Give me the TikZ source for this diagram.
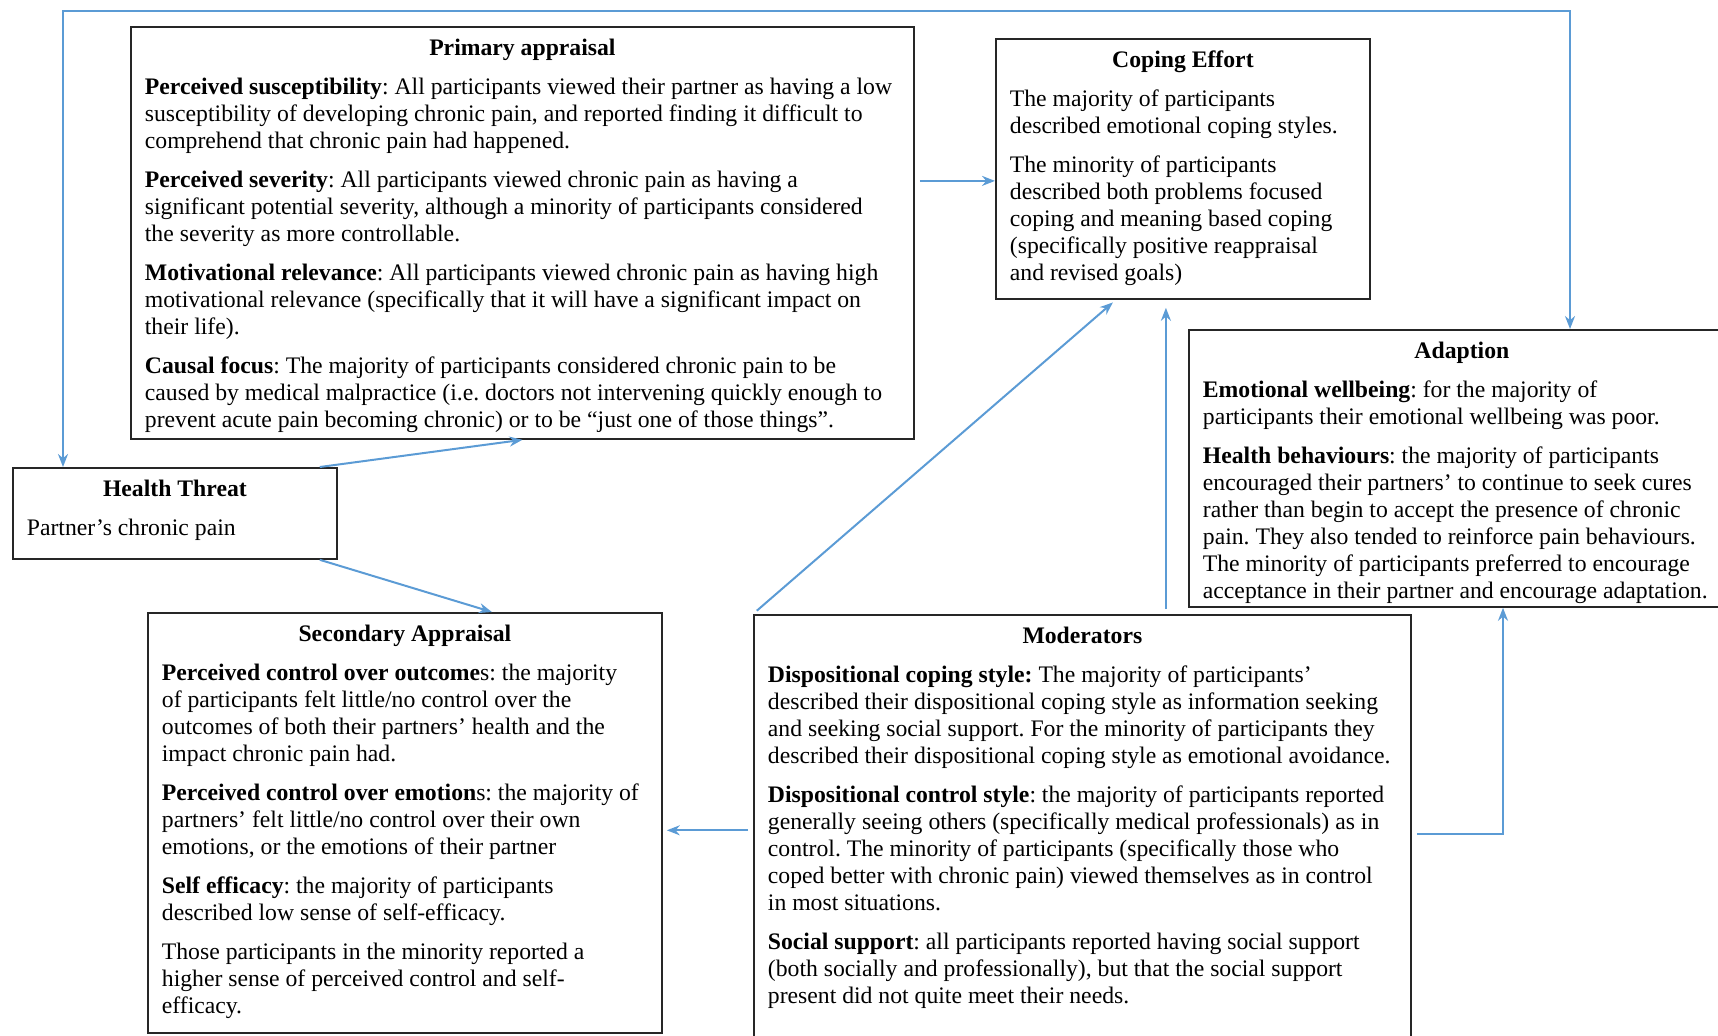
\documentclass[tikz,border=0pt]{standalone}
\usepackage{fontspec}
\setmainfont{Liberation Serif}
\usetikzlibrary{arrows.meta}
\definecolor{linkblue}{RGB}{91,155,213}
\newcommand{\panelfont}{\fontsize{11.85}{13.5}\selectfont\frenchspacing}
\tikzset{
  panel/.style={draw=black!85, line width=0.9pt, anchor=north west, align=flush left,
    inner xsep=7pt, inner ysep=0pt, text height=14.4pt, font=\panelfont,
    execute at begin node={\setlength{\parskip}{6pt}}},
  link/.style={linkblue, line width=1pt, -{Stealth[length=6.5pt,width=5pt]}},
}

\begin{document}
\begin{tikzpicture}[x=0.5pt,y=-0.5pt]
\useasboundingbox (0,0) rectangle (1718,1035);

\node[panel, text width=377.5pt, text depth=191.6pt] (primary) at (130,26) {%
{\centering\bfseries Primary appraisal\par}
\textbf{Perceived susceptibility}: All participants viewed their partner as having a low\\
susceptibility of developing chronic pain, and reported finding it difficult to\\
comprehend that chronic pain had happened.\par
\textbf{Perceived severity}: All participants viewed chronic pain as having a\\
significant potential severity, although a minority of participants considered\\
the severity as more controllable.\par
\textbf{Motivational relevance}: All participants viewed chronic pain as having high\\
motivational relevance (specifically that it will have a significant impact on\\
their life).\par
\textbf{Causal focus}: The majority of participants considered chronic pain to be\\
caused by medical malpractice (i.e. doctors not intervening quickly enough to\\
prevent acute pain becoming chronic) or to be “just one of those things”.};

\node[panel, text width=173pt, text depth=115.6pt] (coping) at (995,38) {%
{\centering\bfseries Coping Effort\par}
The majority of participants\\
described emotional coping styles.\par
The minority of participants\\
described both problems focused\\
coping and meaning based coping\\
(specifically positive reappraisal\\
and revised goals)};

\node[panel, text width=259pt, text depth=124.1pt] (adapt) at (1188,329) {%
{\centering\bfseries Adaption\par}
\textbf{Emotional wellbeing}: for the majority of\\
participants their emotional wellbeing was poor.\par
\textbf{Health behaviours}: the majority of participants\\
encouraged their partners’ to continue to seek cures\\
rather than begin to accept the presence of chronic\\
pain. They also tended to reinforce pain behaviours.\\
The minority of participants preferred to encourage\\
acceptance in their partner and encourage adaptation.};

\node[panel, text width=148pt, text depth=31.1pt] (threat) at (12,467) {%
{\centering\bfseries Health Threat\par}
Partner’s chronic pain};

\node[panel, text width=243pt, text depth=195.6pt] (secondary) at (147,612) {%
{\centering\bfseries Secondary Appraisal\par}
\textbf{Perceived control over outcome}s: the majority\\
of participants felt little/no control over the\\
outcomes of both their partners’ health and the\\
impact chronic pain had.\par
\textbf{Perceived control over emotion}s: the majority of\\
partners’ felt little/no control over their own\\
emotions, or the emotions of their partner\par
\textbf{Self efficacy}: the majority of participants\\
described low sense of self-efficacy.\par
Those participants in the minority reported a\\
higher sense of perceived control and self-\\
efficacy.};

\node[panel, text width=314.5pt, text depth=201pt] (moder) at (753,614) {%
{\centering\bfseries Moderators\par}
\textbf{Dispositional coping style:} The majority of participants’\\
described their dispositional coping style as information seeking\\
and seeking social support. For the minority of participants they\\
described their dispositional coping style as emotional avoidance.\par
\textbf{Dispositional control style}: the majority of participants reported\\
generally seeing others (specifically medical professionals) as in\\
control. The minority of participants (specifically those who\\
coped better with chronic pain) viewed themselves as in control\\
in most situations.\par
\textbf{Social support}: all participants reported having social support\\
(both socially and professionally), but that the social support\\
present did not quite meet their needs.};

% feedback loop along the top
\coordinate (tl) at (63,11);
\coordinate (tr) at (1570,11);
\draw[link, {Stealth[length=6.5pt,width=5pt]}-{Stealth[length=6.5pt,width=5pt]}]
  (threat.north -| tl) -- (tl) -- (tr) -- (adapt.north -| tr);

\coordinate (ce) at ([yshift=-6pt]coping.west);
\coordinate (vx) at ([xshift=-8.5pt]coping.south);
\coordinate (ax) at ([xshift=157.5pt]adapt.south west);
\path[link]
(primary.east |- ce) edge [shorten <=2.5pt] (ce)
([xshift=-9pt]threat.north east) edge (primary.south)
([xshift=-9pt]threat.south east) edge ([xshift=43.5pt]secondary.north)
(moder.north west) edge [shorten <=2.5pt, shorten >=2pt] ([xshift=-33.5pt]coping.south)
(moder.north -| vx) edge [shorten <=2.5pt, shorten >=4pt] (vx)
(moder.west) edge [shorten <=2.5pt, shorten >=2pt] (secondary.east |- moder.west)
;
\draw[link] ([shift={(2.5pt,-2pt)}]moder.east) -| (ax);
\end{tikzpicture}
\end{document}
